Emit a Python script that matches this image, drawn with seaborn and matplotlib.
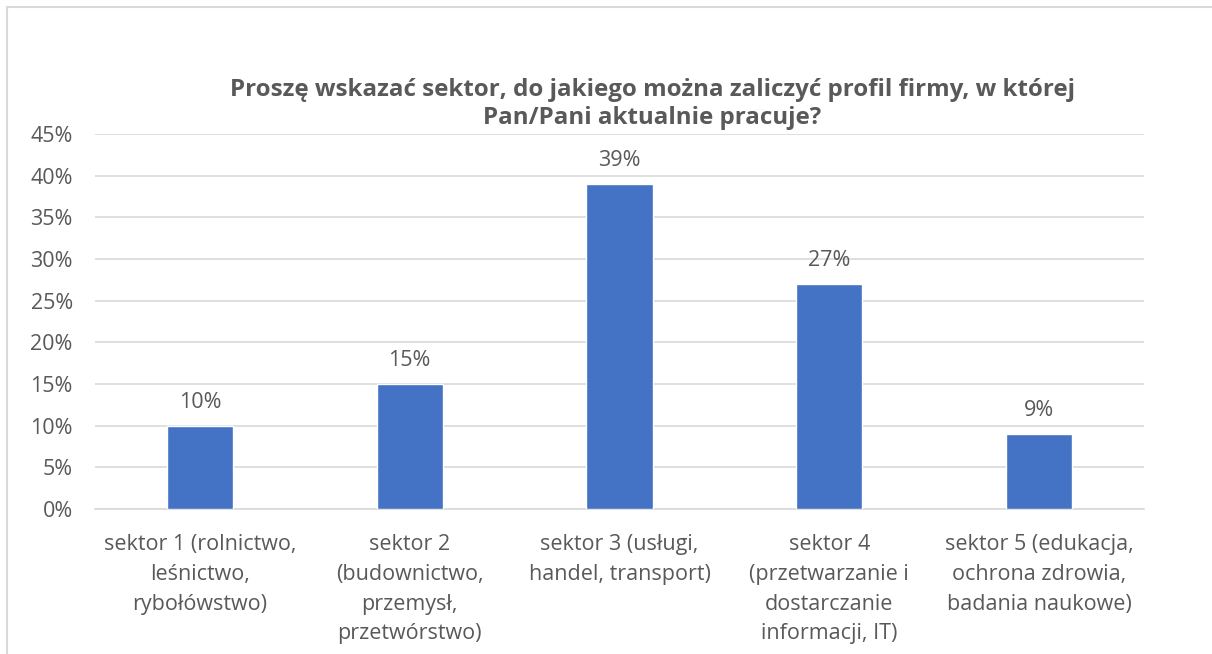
import matplotlib
matplotlib.use("Agg")
import matplotlib.pyplot as plt
import seaborn as sns
import pandas as pd
from matplotlib.patches import Rectangle
from matplotlib.ticker import MultipleLocator, FuncFormatter

categories = [
    "sektor 1 (rolnictwo,\nleśnictwo,\nrybołówstwo)",
    "sektor 2\n(budownictwo,\nprzemysł,\nprzetwórstwo)",
    "sektor 3 (usługi,\nhandel, transport)",
    "sektor 4\n(przetwarzanie i\ndostarczanie\ninformacji, IT)",
    "sektor 5 (edukacja,\nochrona zdrowia,\nbadania naukowe)",
]
values = [10, 15, 39, 27, 9]
title = "Proszę wskazać sektor, do jakiego można zaliczyć profil firmy, w której\nPan/Pani aktualnie pracuje?"

sns.set_theme(style="white")
plt.rcParams['font.family'] = ['Open Sans', 'DejaVu Sans']
text_color = "#595959"

df = pd.DataFrame({"cat": categories, "val": values})

fig = plt.figure(figsize=(12.12, 6.54), dpi=100)
ax = fig.add_axes([95/1212, 1-509/654, (1144-95)/1212, (509-134)/654])

sns.barplot(data=df, x="cat", y="val", color="#4472C4", width=0.316,
            saturation=1, ax=ax, zorder=3)

ax.set_ylim(0, 45)
ax.yaxis.set_major_locator(MultipleLocator(5))
ax.yaxis.set_major_formatter(FuncFormatter(lambda v, p: f"{int(round(v))}%"))
ax.grid(axis="y", color="#d9d9d9", linewidth=1.2, zorder=0)
ax.set_xlabel("")
ax.set_ylabel("")
for s in ["top", "right", "left"]:
    ax.spines[s].set_visible(False)
ax.spines["bottom"].set_color("#d9d9d9")
ax.spines["bottom"].set_linewidth(1.2)
ax.tick_params(axis="y", labelsize=15.5, colors=text_color, pad=16, length=0)
ax.tick_params(axis="x", labelsize=15.5, colors=text_color, pad=18, length=0)
for lbl in ax.get_xticklabels():
    lbl.set_linespacing(1.55)
    lbl.set_ha("center")

for bar, v in zip(ax.patches, values):
    ax.annotate(f"{v}%", (bar.get_x() + bar.get_width()/2, bar.get_height()),
                xytext=(0, 9), textcoords="offset points", ha="center", va="bottom",
                fontsize=15.5, color=text_color)

fig.text(652/1212, 1-104/654, title, ha="center", va="center", fontsize=17.4,
         fontweight="bold", color=text_color, linespacing=1.25)

fig.patches.append(Rectangle((7/1212, -0.1), 1.2, 1-7/654+0.1, transform=fig.transFigure,
                             fill=False, edgecolor="#d9d9d9", linewidth=1.5))

fig.savefig("out.png", dpi=100)
